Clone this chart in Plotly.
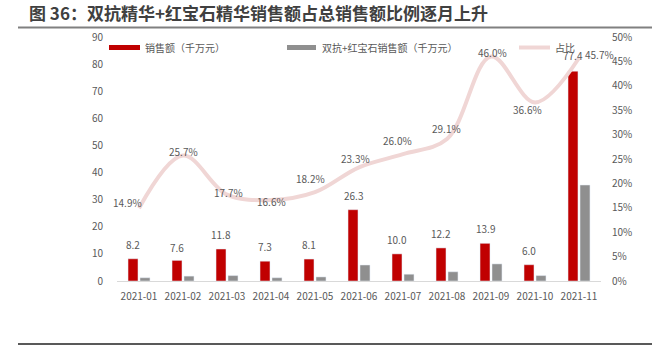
import plotly.graph_objects as go

months = ["2021-01", "2021-02", "2021-03", "2021-04", "2021-05", "2021-06",
          "2021-07", "2021-08", "2021-09", "2021-10", "2021-11"]
sales_total = [8.2, 7.6, 11.8, 7.3, 8.1, 26.3, 10.0, 12.2, 13.9, 6.0, 77.4]
sales_combo = [1.2, 1.8, 2.0, 1.2, 1.5, 5.9, 2.5, 3.4, 6.3, 2.0, 35.4]
share_pct = [14.9, 25.7, 17.7, 16.6, 18.2, 23.3, 26.0, 29.1, 46.0, 36.6, 45.7]

name_total = "销售额（千万元）"
name_combo = "双抗+红宝石销售额（千万元）"
name_share = "占比"
title_text = "图 36：双抗精华+红宝石精华销售额占总销售额比例逐月上升"

# label offsets (pixels) for the share labels
share_label_dx = [-12, 0, 1, 0, -5, -4, -6, -1, 1, -8, 20]
share_label_dy = [6, 4, 2, -2, 14, 9, 14, 10, 4, -7, 3]
# extra vertical offset for bar value labels
bar_label_dy = [5, 3, 5, 5, 5, 5, 5, 5, 5, 5, 6]

RED = "#C00000"
GRAY = "#8F8F8F"
PINK = "#F0D6D5"
TXT = "#595959"
FONT = "Noto Sans CJK SC, Noto Sans, sans-serif"

W, H = 654, 351
L, R, T, B = 117, 53, 37, 70
PW, PH = W - L - R, H - T - B


def px(x):
    return (x - L) / PW


def py(y):
    return (H - B - y) / PH


share_frac = [v / 100 for v in share_pct]

fig = go.Figure()
fig.add_trace(go.Bar(x=months, y=sales_total, name=name_total, marker_color=RED,
                     showlegend=False))
fig.add_trace(go.Bar(x=months, y=sales_combo, name=name_combo, marker_color=GRAY,
                     showlegend=False))
fig.add_trace(go.Scatter(x=months, y=share_frac, name=name_share, yaxis="y2",
                         mode="lines", line=dict(color=PINK, width=4, shape="spline", smoothing=1),
                         showlegend=False))

annotations = []
for m, v, dy in zip(months, sales_total, bar_label_dy):
    annotations.append(dict(x=m, y=v, xref="x", yref="y", text=f"{v:.1f}", showarrow=False,
                            xshift=-6, yshift=dy, yanchor="bottom",
                            font=dict(size=10, color=TXT, family=FONT)))
for m, v, f, dx, dy in zip(months, share_pct, share_frac, share_label_dx, share_label_dy):
    annotations.append(dict(x=m, y=f, xref="x", yref="y2", text=f"{v:.1f}%", showarrow=False,
                            xshift=dx, yshift=dy,
                            font=dict(size=10, color=TXT, family=FONT)))

# title
annotations.append(dict(x=px(27), y=py(12.5), xref="paper", yref="paper", text=f"<b>{title_text}</b>",
                        showarrow=False, xanchor="left", yanchor="middle",
                        font=dict(size=17, color="#404040", family=FONT)))
# legend texts
for xt, t in [(143, name_total), (320, name_combo), (553, name_share)]:
    annotations.append(dict(x=px(xt), y=py(47), xref="paper", yref="paper", text=t,
                            showarrow=False, xanchor="left", yanchor="middle",
                            font=dict(size=10, color=TXT, family=FONT)))

shapes = [
    dict(type="rect", xref="paper", yref="paper", x0=px(109), x1=px(140), y0=py(45), y1=py(50),
         fillcolor=RED, line=dict(width=0)),
    dict(type="rect", xref="paper", yref="paper", x0=px(287), x1=px(316), y0=py(45), y1=py(50),
         fillcolor=GRAY, line=dict(width=0)),
    dict(type="line", xref="paper", yref="paper", x0=px(519), x1=px(550), y0=py(47.5), y1=py(47.5),
         line=dict(color=PINK, width=4)),
    dict(type="line", xref="paper", yref="paper", x0=px(18), x1=px(652), y0=py(27.5), y1=py(27.5),
         line=dict(color="#808080", width=2)),
    dict(type="line", xref="paper", yref="paper", x0=px(18), x1=px(652), y0=py(344), y1=py(344),
         line=dict(color="#595959", width=2)),
]

fig.update_layout(
    width=W, height=H,
    margin=dict(l=L, r=R, t=T, b=B, pad=0, autoexpand=False),
    paper_bgcolor="white", plot_bgcolor="white",
    barmode="group", bargap=0.455, bargroupgap=0.17,
    showlegend=False,
    font=dict(family=FONT, size=10, color=TXT),
    xaxis=dict(type="category", range=[-0.5, len(months) - 0.5], autorange=False,
               showline=True, linecolor="#D9D9D9", linewidth=1,
               showgrid=False, ticks="", tickfont=dict(size=10, color=TXT),
               ticklabelstandoff=6, automargin=False),
    yaxis=dict(range=[0, 90], autorange=False, dtick=10, showgrid=False, zeroline=False,
               showline=False, ticks="", tickfont=dict(size=10, color=TXT), ticklabelstandoff=13,
               automargin=False),
    yaxis2=dict(range=[0, 0.5], autorange=False, dtick=0.05, tickformat=".0%", overlaying="y",
                side="right", showgrid=False, zeroline=False, showline=False, ticks="",
                tickfont=dict(size=10, color=TXT), ticklabelstandoff=10, automargin=False),
    annotations=annotations,
    shapes=shapes,
)

fig.write_html("out.html")
